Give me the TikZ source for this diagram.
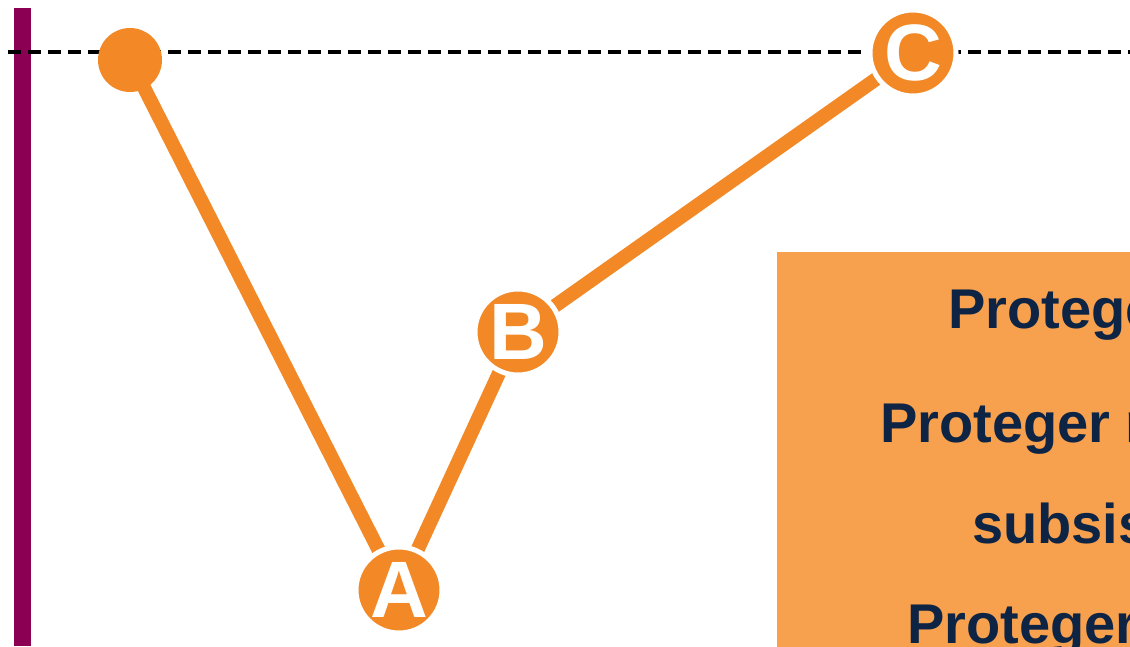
\documentclass[tikz,border=0pt]{standalone}
\usepackage{fontspec}
\setmainfont{Liberation Sans}
\definecolor{lineorange}{RGB}{242,136,38}
\definecolor{boxorange}{RGB}{247,160,78}
\definecolor{navy}{RGB}{14,36,68}
\definecolor{plum}{RGB}{140,0,84}
\tikzset{
  track/.style={lineorange, line width=14pt},
  marker/.style={circle, fill=lineorange, draw=white, line width=5pt,
    minimum size=86pt, inner sep=0pt, text=white,
    font=\fontsize{80}{80}\selectfont\bfseries},
  startdot/.style={circle, fill=lineorange, minimum size=64pt, inner sep=0pt},
  boxtext/.style={anchor=base west, text=navy, inner sep=0pt,
    font=\fontsize{56}{56}\selectfont\bfseries},
}
\begin{document}
\begin{tikzpicture}[x=1pt,y=-1pt]
\useasboundingbox (0,0) rectangle (1130,646);
\clip (0,0) rectangle (1130,646);
% vertical axis and reference level
\fill[plum] (14,8) rectangle (31,646);
\draw[black, line width=3.5pt, dash pattern=on 13pt off 7pt] (8,52) -- (1130,52);
% path of the curve
\coordinate (s) at (130,60);
\coordinate (a) at (399,590);
\coordinate (b) at (518,332);
\coordinate (c) at (913,53);
\draw[track] (s) -- (a) -- (b) -- (c);
\node[startdot] (dot) at (s) {};
\node[marker] (A) at (a) {A};
\node[marker] (B) at (b) {B};
\node[marker] (C) at (c) {C};
% text panel
\fill[boxorange] (777,252) rectangle (1140,660);
\node[boxtext] (t1) at (948,328) {Proteger la vida};
\node[boxtext] (t2) at (880,442) {Proteger medios de};
\node[boxtext] (t3) at (972,543) {subsistencia};
\node[boxtext] (t4) at (907,643) {Proteger};
\end{tikzpicture}
\end{document}
